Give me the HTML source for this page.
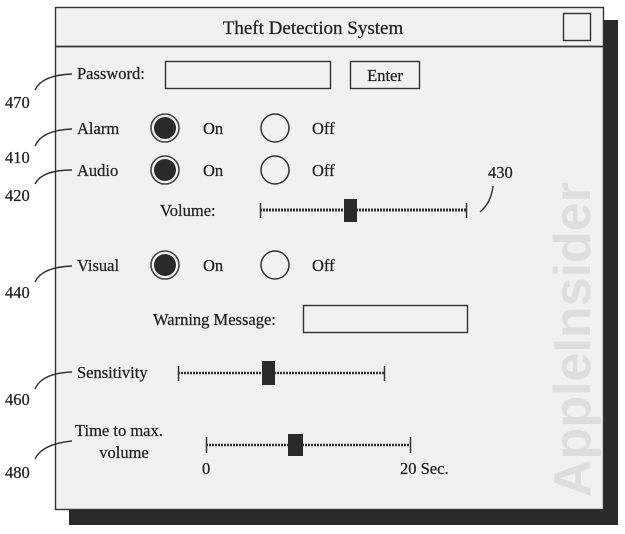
<!DOCTYPE html>
<html><head><meta charset="utf-8"><style>
html,body{margin:0;padding:0;background:#fff;}
svg{display:block;}
text{font-family:"Liberation Serif",serif;fill:#222;stroke:#222;stroke-width:0.25;}
</style></head><body>
<svg width="625" height="534" viewBox="0 0 625 534" xmlns="http://www.w3.org/2000/svg">
<rect x="0" y="0" width="625" height="534" fill="#fff"/>
<rect x="69" y="20" width="549" height="505" fill="#2a2a2a"/>
<rect x="55.5" y="7.5" width="548" height="502" fill="#f1f1f1" stroke="#333" stroke-width="1.4"/>
<line x1="55" y1="46.5" x2="604" y2="46.5" stroke="#333" stroke-width="1.8"/>
<text x="313" y="34" font-size="19" text-anchor="middle">Theft Detection System</text>
<rect x="563.5" y="13.5" width="27" height="27" fill="none" stroke="#333" stroke-width="1.4"/>
<text x="0" y="0" font-size="52" font-weight="bold" style="fill:#dedede;stroke:none;font-family:'Liberation Sans',sans-serif" transform="translate(590,497) rotate(-90)">AppleInsider</text>
<g font-size="16.5">
<text x="77" y="79">Password:</text>
<rect x="165.5" y="61.5" width="165" height="27" fill="none" stroke="#333" stroke-width="1.4"/>
<rect x="350.5" y="61.5" width="69" height="27" fill="none" stroke="#333" stroke-width="1.4"/>
<text x="385" y="81" text-anchor="middle">Enter</text>

<text x="77" y="134">Alarm</text>
<circle cx="165" cy="128" r="14" fill="none" stroke="#444" stroke-width="1.6"/><circle cx="165" cy="128" r="11" fill="#2a2a2a"/>
<text x="203" y="134">On</text>
<circle cx="275" cy="128" r="14" fill="none" stroke="#333" stroke-width="1.5"/>
<text x="312" y="134">Off</text>

<text x="77" y="176">Audio</text>
<circle cx="165" cy="170" r="14" fill="none" stroke="#444" stroke-width="1.6"/><circle cx="165" cy="170" r="11" fill="#2a2a2a"/>
<text x="203" y="176">On</text>
<circle cx="275" cy="170" r="14" fill="none" stroke="#333" stroke-width="1.5"/>
<text x="312" y="176">Off</text>

<text x="160" y="216">Volume:</text>
<line x1="260" y1="210" x2="467" y2="210" stroke="#333" stroke-width="3" stroke-dasharray="2 1"/>
<line x1="260.5" y1="203" x2="260.5" y2="218" stroke="#333" stroke-width="1.5"/>
<line x1="466.5" y1="203" x2="466.5" y2="218" stroke="#333" stroke-width="1.5"/>
<rect x="344" y="199" width="13" height="23" fill="#2a2a2a"/>
<text x="488" y="178">430</text>
<path d="M480 212 Q491 203 493 186" fill="none" stroke="#333" stroke-width="1.4"/>

<text x="77" y="271">Visual</text>
<circle cx="165" cy="265" r="14" fill="none" stroke="#444" stroke-width="1.6"/><circle cx="165" cy="265" r="11" fill="#2a2a2a"/>
<text x="203" y="271">On</text>
<circle cx="275" cy="265" r="14" fill="none" stroke="#333" stroke-width="1.5"/>
<text x="312" y="271">Off</text>

<text x="153" y="325">Warning Message:</text>
<rect x="303.5" y="305.5" width="164" height="27" fill="none" stroke="#333" stroke-width="1.4"/>

<text x="77" y="378">Sensitivity</text>
<line x1="178" y1="373" x2="385" y2="373" stroke="#333" stroke-width="2.6" stroke-dasharray="2 1"/>
<line x1="178.5" y1="366" x2="178.5" y2="381" stroke="#333" stroke-width="1.5"/>
<line x1="384.5" y1="366" x2="384.5" y2="381" stroke="#333" stroke-width="1.5"/>
<rect x="262" y="361" width="13" height="24" fill="#2a2a2a"/>

<text x="75" y="436">Time to max.</text>
<text x="124" y="458" text-anchor="middle">volume</text>
<line x1="206" y1="445" x2="411" y2="445" stroke="#333" stroke-width="2.6" stroke-dasharray="2 1"/>
<line x1="206.5" y1="437" x2="206.5" y2="453" stroke="#333" stroke-width="1.5"/>
<line x1="410.5" y1="437" x2="410.5" y2="453" stroke="#333" stroke-width="1.5"/>
<rect x="288" y="434" width="15" height="22" fill="#2a2a2a"/>
<text x="202" y="474">0</text>
<text x="400" y="474">20 Sec.</text>

<text x="5" y="108">470</text>
<text x="5" y="163">410</text>
<text x="5" y="201">420</text>
<text x="5" y="298">440</text>
<text x="5" y="405">460</text>
<text x="5" y="478">480</text>
</g>
<g fill="none" stroke="#333" stroke-width="1.4">
<path d="M35 90 Q42 75 72 74"/>
<path d="M35 146 Q42 130 72 129"/>
<path d="M35 184 Q42 170 72 170"/>
<path d="M35 282 Q42 267 72 266"/>
<path d="M35 389 Q42 373 72 372"/>
<path d="M35 459 Q42 444 72 441"/>
</g>
</svg>
</body></html>
